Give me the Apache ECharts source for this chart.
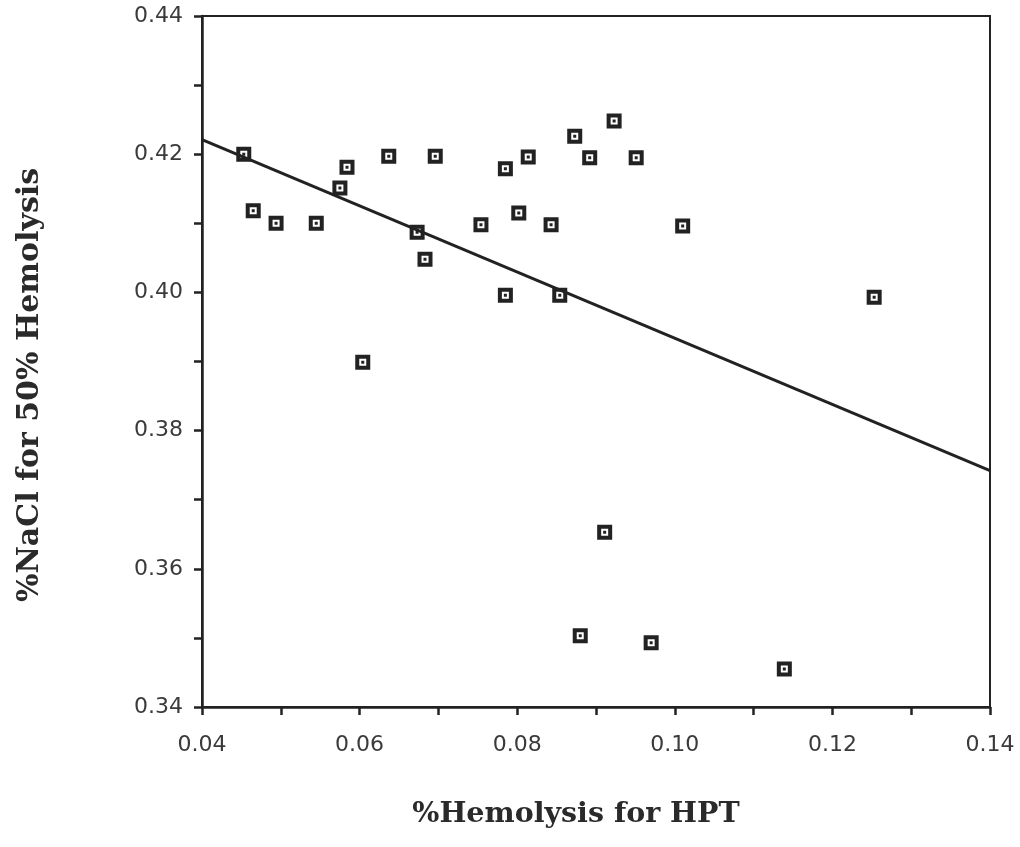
<!DOCTYPE html>
<html>
<head>
<meta charset="utf-8">
<script src="https://cdn.jsdelivr.net/npm/echarts@6/dist/echarts.min.js"></script>
<style>
html,body{margin:0;padding:0;background:#fff;}
#chart{width:1020px;height:847px;}
</style>
</head>
<body>
<div id="chart"></div>
<script>
const hptX = [0.0453,0.0465,0.0494,0.0545,0.0575,0.0584,0.0637,0.0696,0.0673,0.0683,0.0604,0.0754,0.0785,0.0814,0.0802,0.0785,0.0843,0.0854,0.0873,0.0892,0.0923,0.0951,0.1010,0.0911,0.0880,0.0970,0.1139,0.1253];
const naclY = [0.4200,0.4118,0.4100,0.4100,0.4151,0.4181,0.4197,0.4197,0.4087,0.4048,0.3899,0.4098,0.4179,0.4196,0.4115,0.3996,0.4098,0.3996,0.4226,0.4195,0.4248,0.4195,0.4096,0.3653,0.3503,0.3493,0.3455,0.3993];
const fitX = [0.04, 0.14];
const fitY = [0.4221, 0.3742];
const xTicks = ['0.04','0.06','0.08','0.10','0.12','0.14'];
const yTicks = ['0.34','0.36','0.38','0.40','0.42','0.44'];
const xTitle = '%Hemolysis for HPT';
const yTitle = '%NaCl for 50% Hemolysis';

const points = hptX.map((x,i)=>[x,naclY[i]]);
const fitLine = fitX.map((x,i)=>[x,fitY[i]]);

const marker = 'path://M0,0H15V15H0Z M4,4V11H11V4Z M6,6H9V9H6Z';
const ink = '#222';
const titleFont = {fontFamily:'DejaVu Serif',fontWeight:'bold',fill:'#2a2a2a'};

const chart = echarts.init(document.getElementById('chart'));
chart.setOption({
  animation:false,
  backgroundColor:'#fff',
  grid:{left:202,right:30,top:16,bottom:140,show:true,borderColor:ink,borderWidth:2},
  graphic:[
    {type:'text',left:null,x:576,y:815,
     style:Object.assign({text:xTitle,fontSize:28.5,textAlign:'center',textVerticalAlign:'middle'},titleFont)},
    {type:'text',x:30,y:385,rotation:Math.PI/2,
     style:Object.assign({text:yTitle,fontSize:30,textAlign:'center',textVerticalAlign:'middle'},titleFont)}
  ],
  xAxis:{
    type:'value',min:0.04,max:0.14,interval:0.02,
    axisLine:{lineStyle:{color:ink,width:2.5}},
    axisTick:{show:true,inside:false,length:8,lineStyle:{color:ink,width:2.5}},
    minorTick:{show:true,splitNumber:2,length:8,lineStyle:{color:ink,width:2.5}},
    splitLine:{show:false},
    axisLabel:{margin:27,fontFamily:'DejaVu Sans',fontSize:22,color:'#3a3a3a',
      formatter:(v)=>{const s=v.toFixed(2);return xTicks.indexOf(s)>=0?s:'';}}
  },
  yAxis:{
    type:'value',min:0.34,max:0.44,interval:0.02,
    axisLine:{lineStyle:{color:ink,width:2.5}},
    axisTick:{show:true,inside:false,length:8,lineStyle:{color:ink,width:2.5}},
    minorTick:{show:true,splitNumber:2,length:8,lineStyle:{color:ink,width:2.5}},
    splitLine:{show:false},
    axisLabel:{margin:19,fontFamily:'DejaVu Sans',fontSize:22,color:'#3a3a3a',
      formatter:(v)=>{const s=v.toFixed(2);return yTicks.indexOf(s)>=0?s:'';}}
  },
  series:[
    {type:'line',data:fitLine,showSymbol:false,symbol:'none',
     lineStyle:{color:ink,width:3},z:2},
    {type:'scatter',data:points,symbol:marker,symbolSize:15,
     itemStyle:{color:ink,opacity:1},z:3}
  ]
});
</script>
</body>
</html>
